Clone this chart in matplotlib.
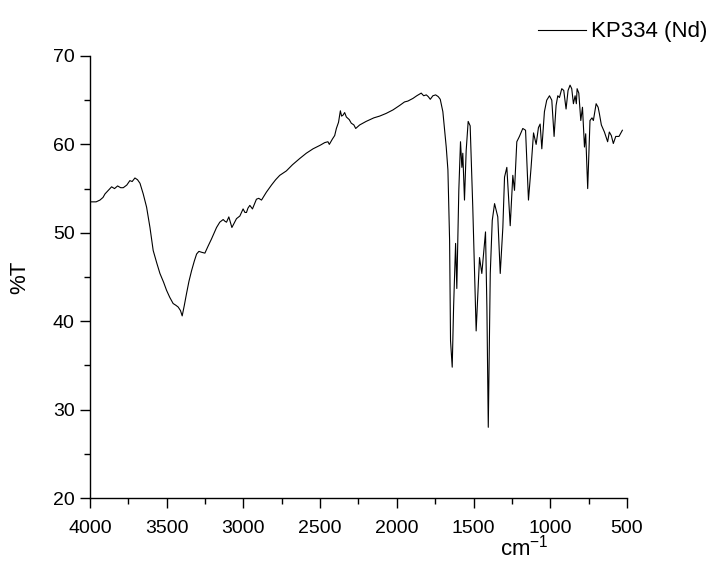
import matplotlib
matplotlib.use('Agg')
import matplotlib.pyplot as plt
from matplotlib.ticker import MultipleLocator
from matplotlib import rcParams

rcParams['font.family'] = ['Liberation Sans', 'DejaVu Sans']

# wavenumber (cm-1) and %T
wavenumber = [4000, 3960, 3935, 3915, 3902, 3880, 3859, 3840, 3820, 3800,
              3783, 3760, 3740, 3725, 3707, 3690, 3674, 3653, 3631, 3609,
              3588, 3565, 3544, 3520, 3501, 3480, 3458, 3440, 3425, 3410,
              3399, 3385, 3371, 3355, 3338, 3320, 3305, 3290, 3273, 3251,
              3230, 3208, 3190, 3175, 3154, 3132, 3120, 3110, 3095, 3085,
              3075, 3060, 3045, 3023, 3002, 2990, 2980, 2970, 2958, 2941,
              2915, 2900, 2882, 2850, 2817, 2790, 2763, 2720, 2680, 2633,
              2590, 2546, 2500, 2470, 2449, 2440, 2420, 2405, 2394, 2380,
              2368, 2360, 2351, 2340, 2329, 2310, 2297, 2280, 2268, 2255,
              2242, 2200, 2150, 2112, 2070, 2025, 1982, 1950, 1928, 1895,
              1870, 1841, 1825, 1808, 1795, 1782, 1765, 1747, 1730, 1717,
              1700, 1678, 1667, 1656, 1650, 1639, 1630, 1617, 1609, 1596,
              1585, 1576, 1570, 1559, 1548, 1535, 1522, 1505, 1483, 1461,
              1446, 1422, 1413, 1404, 1391, 1378, 1363, 1342, 1326, 1309,
              1298, 1283, 1261, 1244, 1233, 1218, 1201, 1179, 1161, 1142,
              1125, 1109, 1092, 1077, 1066, 1055, 1038, 1023, 1005, 990,
              975, 962, 951, 940, 925, 912, 897, 884, 871, 860,
              849, 838, 830, 825, 814, 801, 790, 777, 769, 756,
              741, 728, 719, 701, 688, 680, 667, 647, 626, 615,
              602, 589, 573, 552, 530]
transmittance = [53.5, 53.5, 53.7, 54.0, 54.4, 54.8, 55.2, 55.0, 55.3, 55.1,
                 55.1, 55.4, 55.9, 55.8, 56.2, 56.0, 55.6, 54.4, 52.9, 50.6,
                 48.0, 46.6, 45.4, 44.4, 43.5, 42.7, 42.0, 41.8, 41.6, 41.2,
                 40.6, 41.8, 43.1, 44.5, 45.7, 46.8, 47.6, 47.9, 47.8, 47.7,
                 48.5, 49.3, 50.0, 50.6, 51.2, 51.5, 51.3, 51.2, 51.8, 51.2,
                 50.6, 51.1, 51.6, 51.9, 52.7, 52.3, 52.3, 52.8, 53.1, 52.7,
                 53.8, 53.9, 53.7, 54.6, 55.4, 56.0, 56.5, 57.0, 57.7, 58.4,
                 59.0, 59.5, 59.9, 60.2, 60.3, 60.0, 60.6, 61.0, 61.8, 62.5,
                 63.8, 63.2, 63.3, 63.6, 63.1, 62.8, 62.4, 62.2, 61.8, 62.0,
                 62.2, 62.6, 63.0, 63.2, 63.5, 63.9, 64.4, 64.8, 64.9, 65.2,
                 65.5, 65.8, 65.5, 65.6, 65.4, 65.1, 65.5, 65.6, 65.4, 65.1,
                 63.7, 59.7, 57.1, 49.1, 37.8, 34.8, 41.6, 48.8, 43.7, 54.8,
                 60.3, 57.4, 59.0, 53.7, 59.3, 62.6, 62.1, 52.9, 38.9, 47.2,
                 45.4, 50.1, 41.6, 28.0, 45.4, 51.4, 53.3, 51.8, 45.4, 50.6,
                 56.3, 57.4, 50.8, 56.5, 54.8, 60.3, 60.9, 61.8, 61.6, 53.7,
                 57.4, 61.3, 60.0, 61.9, 62.3, 59.5, 63.7, 65.0, 65.5, 65.0,
                 60.9, 64.4, 65.5, 65.3, 66.3, 66.1, 64.0, 66.1, 66.7, 66.3,
                 64.6, 65.5, 64.6, 66.3, 65.8, 62.7, 64.2, 59.7, 61.2, 55.0,
                 62.7, 63.0, 62.7, 64.6, 64.2, 63.5, 62.2, 61.4, 60.3, 61.4,
                 61.0, 60.1, 60.9, 60.9, 61.6]

fig = plt.figure(figsize=(7.09, 5.66), dpi=100)
ax = fig.add_axes([0.1269, 0.1201, 0.8843 - 0.1269, 0.9011 - 0.1201])

ax.plot(wavenumber, transmittance, color='black', linewidth=0.8, label='KP334 (Nd)')

ax.set_xlim(4000, 500)
ax.set_ylim(20, 70)
ax.xaxis.set_major_locator(MultipleLocator(500))
ax.xaxis.set_minor_locator(MultipleLocator(250))
ax.yaxis.set_major_locator(MultipleLocator(10))
ax.yaxis.set_minor_locator(MultipleLocator(5))

ax.spines['top'].set_visible(False)
ax.spines['right'].set_visible(False)
ax.spines['bottom'].set_linewidth(1.0)
ax.spines['left'].set_linewidth(1.0)

ax.tick_params(axis='both', which='major', direction='out', length=7, width=1, labelsize=14)
ax.tick_params(axis='both', which='minor', direction='out', length=4, width=1)
ax.tick_params(axis='x', which='major', pad=9)
ax.tick_params(axis='y', which='major', pad=4)

ax.set_xlabel('cm$^{\\mathregular{-1}}$', fontsize=16)
ax.xaxis.set_label_coords(0.808, -0.113)
ax.xaxis.label.set_va('center')
ax.set_ylabel('%T', fontsize=16)
ax.yaxis.set_label_coords(-0.13, 0.5)
ax.yaxis.label.set_va('center')

ax.legend(loc='center left', bbox_to_anchor=(538 / 709, 1 - 32 / 566),
          bbox_transform=fig.transFigure, frameon=False, fontsize=16,
          handlelength=2.16, handletextpad=0.22, borderpad=0, borderaxespad=0)

fig.savefig('out.png', dpi=100)
